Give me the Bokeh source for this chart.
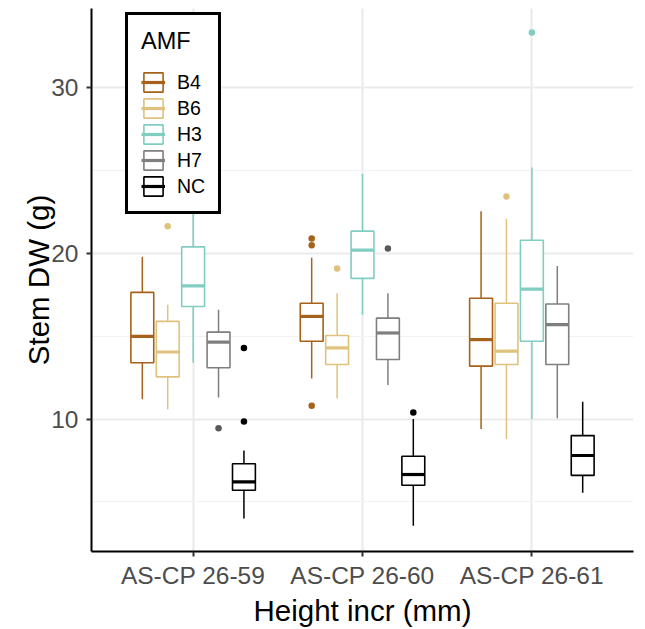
from bokeh.plotting import figure
from bokeh.models import FixedTicker, Legend, LegendItem, ColumnDataSource
from bokeh.embed import file_html
from bokeh.resources import INLINE

cultivars = ["AS-CP 26-59", "AS-CP 26-60", "AS-CP 26-61"]
amf = ["B4", "B6", "H3", "H7", "NC"]
colors = ["#A6611A", "#DFC27D", "#80CDC1", "#7F7F7F", "#000000"]
point_colors = ["#A6611A", "#DFC27D", "#80CDC1", "#595959", "#000000"]

# per AMF: values for the three cultivars
lower = {"B4": [11.2, 12.45, 9.4], "B6": [10.6, 11.25, 8.8], "H3": [13.4, 16.3, 10.0],
         "H7": [11.3, 12.05, 10.05], "NC": [4.0, 3.55, 5.55]}
q1 = {"B4": [13.4, 14.7, 13.2], "B6": [12.55, 13.3, 13.3], "H3": [16.8, 18.5, 14.7],
      "H7": [13.1, 13.6, 13.3], "NC": [5.7, 6.0, 6.6]}
median = {"B4": [15.0, 16.2, 14.8], "B6": [14.05, 14.3, 14.1], "H3": [18.05, 20.2, 17.85],
          "H7": [14.65, 15.2, 15.7], "NC": [6.2, 6.65, 7.8]}
q3 = {"B4": [17.65, 17.0, 17.3], "B6": [15.9, 15.05, 17.0], "H3": [20.4, 21.35, 20.8],
      "H7": [15.25, 16.1, 16.95], "NC": [7.3, 7.75, 9.0]}
upper = {"B4": [19.8, 19.75, 22.55], "B6": [16.9, 17.6, 22.1], "H3": [24.0, 24.8, 25.2],
         "H7": [16.6, 17.6, 19.25], "NC": [8.1, 10.0, 11.05]}
# outliers: (cultivar index, value)
outliers = {"B4": [(1, 20.9), (1, 20.5), (1, 10.8)],
            "B6": [(0, 21.65), (1, 19.1), (2, 23.45)],
            "H3": [(2, 33.35)],
            "H7": [(0, 9.45), (1, 20.3)],
            "NC": [(0, 14.3), (0, 9.85), (1, 10.4)]}

yticks = [10, 20, 30]
yminor = [5, 15, 25]

FONT = "Liberation Sans"
dodge = 0.15
bw = 0.135

p = figure(width=645, height=629, x_range=(0.4, 3.6), y_range=(2.0, 34.8),
           output_backend="svg", toolbar_location=None,
           min_border_left=91, min_border_right=12, min_border_top=8, min_border_bottom=77)
p.outline_line_color = None
p.background_fill_color = "white"

p.xaxis.ticker = FixedTicker(ticks=[1, 2, 3])
p.xaxis.major_label_overrides = {1: cultivars[0], 2: cultivars[1], 3: cultivars[2]}
p.yaxis.ticker = FixedTicker(ticks=yticks, minor_ticks=yminor)

for ax in (p.xaxis, p.yaxis):
    ax.axis_line_color = "black"
    ax.axis_line_width = 2
    ax.major_tick_line_color = "#333333"
    ax.major_tick_line_width = 2
    ax.major_tick_in = 0
    ax.major_tick_out = 5
    ax.minor_tick_line_color = None
    ax.major_label_text_font = FONT
    ax.major_label_text_font_size = "24.5px"
    ax.major_label_text_color = "#4D4D4D"
    ax.axis_label_text_font = FONT
    ax.axis_label_text_font_size = "29.5px"
    ax.axis_label_text_font_style = "normal"
    ax.axis_label_text_color = "black"
p.xaxis.axis_label = "Height incr (mm)"
p.yaxis.axis_label = "Stem DW (g)"
p.xaxis.major_label_standoff = 5
p.yaxis.major_label_standoff = 8
p.xaxis.axis_label_standoff = 2
p.yaxis.axis_label_standoff = -7

p.xgrid.grid_line_color = "#EBEBEB"
p.xgrid.grid_line_width = 2.2
p.ygrid.grid_line_color = "#EBEBEB"
p.ygrid.grid_line_width = 2.2
p.ygrid.minor_grid_line_color = "#F2F2F2"
p.ygrid.minor_grid_line_width = 1.1

items = []
for i, a in enumerate(amf):
    off = (i - 2) * dodge
    xs = [k + 1 + off for k in range(3)]
    src = ColumnDataSource(dict(x=xs, lo=lower[a], q1=q1[a], med=median[a], q3=q3[a], up=upper[a],
                                x0=[x - bw / 2 for x in xs], x1=[x + bw / 2 for x in xs]))
    p.segment(x0="x", y0="up", x1="x", y1="q3", source=src, line_color=colors[i], line_width=1.5)
    p.segment(x0="x", y0="lo", x1="x", y1="q1", source=src, line_color=colors[i], line_width=1.5)
    box = p.vbar(x="x", width=bw, bottom="q1", top="q3", source=src, fill_color="white",
                 line_color=colors[i], line_width=1.6)
    med = p.segment(x0="x0", y0="med", x1="x1", y1="med", source=src, line_color=colors[i],
                    line_width=3.2)
    ox = [outliers[a][j][0] + 1 + off for j in range(len(outliers[a]))]
    oy = [outliers[a][j][1] for j in range(len(outliers[a]))]
    p.scatter(ox, oy, size=6.5, color=point_colors[i], line_width=0)
    items.append(LegendItem(label=a, renderers=[box, med]))

legend = Legend(items=items, location=(34, 337), title="AMF",
                title_text_font=FONT, title_text_font_size="23.5px", title_text_font_style="normal",
                title_text_color="black", title_standoff=15,
                label_text_font=FONT, label_text_font_size="19.5px", label_text_color="black",
                glyph_width=24, glyph_height=24, spacing=2, label_standoff=12,
                label_width=28, padding=13, margin=0,
                border_line_color="black", border_line_width=3, border_line_alpha=1.0,
                background_fill_color="white", background_fill_alpha=1.0)
p.add_layout(legend, "center")

open("out.html", "w").write(file_html(p, INLINE))
